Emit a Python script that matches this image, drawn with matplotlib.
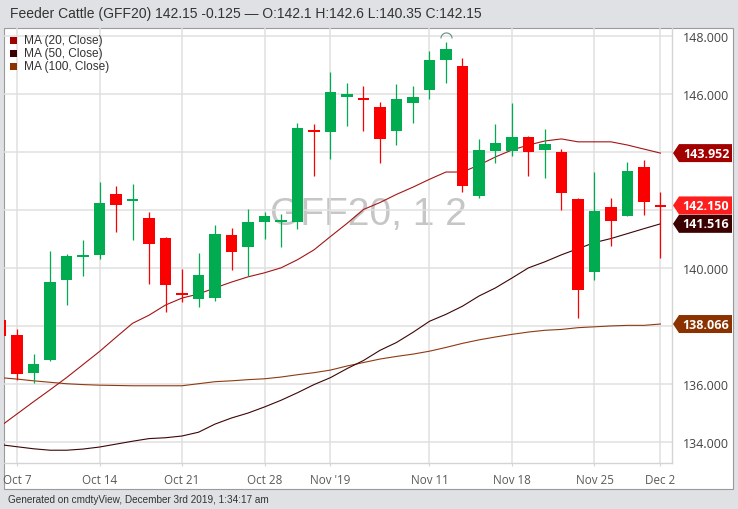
import matplotlib
matplotlib.use('Agg')
import matplotlib.pyplot as plt
import matplotlib.transforms as mtransforms
from matplotlib.patches import Rectangle, Polygon
from matplotlib.path import Path
import numpy as np

# ---------------- data ----------------
dates = ['Oct 4', 'Oct 7', 'Oct 8', 'Oct 9', 'Oct 10', 'Oct 11',
         'Oct 14', 'Oct 15', 'Oct 16', 'Oct 17', 'Oct 18',
         'Oct 21', 'Oct 22', 'Oct 23', 'Oct 24', 'Oct 25',
         'Oct 28', 'Oct 29', 'Oct 30', 'Oct 31', 'Nov 1',
         'Nov 4', 'Nov 5', 'Nov 6', 'Nov 7', 'Nov 8',
         'Nov 11', 'Nov 12', 'Nov 13', 'Nov 14', 'Nov 15',
         'Nov 18', 'Nov 19', 'Nov 20', 'Nov 21', 'Nov 22',
         'Nov 25', 'Nov 26', 'Nov 27', 'Nov 29', 'Dec 2']

opens = [138.22, 137.68, 136.38, 136.84, 139.59, 140.40,
         140.45, 142.55, 142.32, 141.73, 141.03,
         139.12, 138.92, 138.95, 141.14, 140.72,
         141.58, 141.60, 141.58, 144.72, 144.68,
         145.89, 145.85, 145.55, 144.71, 145.69,
         146.12, 147.16, 146.96, 142.48, 144.03,
         144.03, 144.52, 144.07, 143.99, 142.37,
         139.85, 142.11, 141.79, 143.49, 142.10]
highs = [138.30, 137.88, 137.03, 140.58, 140.49, 140.97,
         142.97, 142.83, 142.89, 141.91, 141.05,
         139.97, 140.52, 141.47, 141.38, 142.02,
         141.91, 141.87, 144.99, 144.94, 146.73,
         146.38, 146.27, 145.71, 146.33, 146.27,
         147.47, 147.79, 147.24, 144.45, 144.94,
         145.69, 144.55, 144.79, 144.11, 142.40,
         143.30, 142.39, 143.64, 143.70, 142.60]
lows = [137.60, 136.15, 136.03, 136.80, 138.72, 139.71,
        140.31, 141.24, 140.95, 139.45, 138.49,
        138.81, 138.64, 138.87, 139.91, 139.71,
        141.01, 140.72, 141.33, 143.18, 143.75,
        144.88, 144.71, 143.61, 144.24, 144.99,
        145.83, 146.37, 142.62, 142.40, 143.61,
        143.84, 143.15, 143.09, 141.99, 138.26,
        139.59, 140.75, 141.79, 141.82, 140.35]
closes = [137.66, 136.36, 136.70, 139.50, 140.41, 140.44,
          142.22, 142.16, 142.36, 140.83, 139.41,
          139.08, 139.77, 141.18, 140.54, 141.58,
          141.79, 141.63, 144.82, 144.68, 146.04,
          146.00, 145.81, 144.44, 145.81, 145.89,
          147.17, 147.54, 142.83, 144.07, 144.30,
          144.51, 144.00, 144.27, 142.59, 139.24,
          141.97, 141.62, 143.35, 142.28, 142.15]

ma20 = [134.55, 134.97, 135.39, 135.80, 136.22, 136.67,
        137.12, 137.61, 138.09, 138.37, 138.72,
        138.96, 139.10, 139.31, 139.51, 139.69,
        139.83, 140.00, 140.28, 140.62, 141.08,
        141.53, 142.01, 142.25, 142.53, 142.78,
        143.05, 143.30, 143.30, 143.54, 143.82,
        144.06, 144.23, 144.37, 144.44, 144.34,
        144.34, 144.34, 144.23, 144.09, 143.952]
ma50 = [133.91, 133.84, 133.77, 133.72, 133.72, 133.76,
        133.83, 133.93, 134.03, 134.12, 134.15,
        134.21, 134.34, 134.62, 134.83, 135.00,
        135.21, 135.44, 135.70, 135.98, 136.22,
        136.53, 136.81, 137.16, 137.43, 137.78,
        138.16, 138.40, 138.68, 139.03, 139.31,
        139.65, 140.00, 140.21, 140.45, 140.66,
        140.87, 141.01, 141.18, 141.35, 141.516]
ma100 = [136.22, 136.17, 136.11, 136.06, 136.01, 135.98,
         135.96, 135.95, 135.94, 135.94, 135.94,
         135.94, 136.01, 136.08, 136.11, 136.15,
         136.18, 136.24, 136.32, 136.39, 136.48,
         136.62, 136.74, 136.86, 136.95, 137.03,
         137.13, 137.26, 137.40, 137.52, 137.62,
         137.71, 137.79, 137.85, 137.88, 137.94,
         137.97, 138.00, 138.02, 138.02, 138.066]

net_change = -0.125
tick_dates = ['Oct 7', 'Oct 14', 'Oct 21', 'Oct 28', 'Nov 1',
              'Nov 11', 'Nov 18', 'Nov 25', 'Dec 2']
tick_labels = ['Oct 7', 'Oct 14', 'Oct 21', 'Oct 28', "Nov '19",
               'Nov 11', 'Nov 18', 'Nov 25', 'Dec 2']
y_ticks = [134, 136, 138, 140, 142, 144, 146, 148]
legend_names = ['MA (20, Close)', 'MA (50, Close)', 'MA (100, Close)']
header = 'Feeder Cattle (GFF20) 142.15 -0.125 \u2014 O:142.1 H:142.6 L:140.35 C:142.15'
footer = 'Generated on cmdtyView, December 3rd 2019, 1:34:17 am'
watermark = 'GFF20, 1 2'

# ---------------- style ----------------
W, H = 738, 510
GREEN = '#00ac4f'
RED = '#fb0000'
C20, C50, C100 = '#a31515', '#3d0505', '#8f3a12'
B20, B50, B100, BLAST = '#a30000', '#3d0000', '#8b3200', '#ff1e1e'
GRID = '#e0e0e0'
SANS = ['Liberation Sans', 'DejaVu Sans']
OPEN = ['Open Sans', 'DejaVu Sans']

fig = plt.figure(figsize=(W / 100, H / 100), dpi=100)
fig.patch.set_facecolor('#dfe1e4')

def fx(px):
    return px / W

def fy(py):
    return 1 - py / H

# white panel
panel = Rectangle((fx(3.5), fy(490)), fx(733) - fx(3.5), fy(28.5) - fy(490),
                  transform=fig.transFigure, facecolor='white',
                  edgecolor='#9a9a9a', lw=0.8, zorder=-5)
fig.add_artist(panel)

ax = fig.add_axes([fx(4), fy(464), fx(672) - fx(4), fy(29) - fy(464)])
ax.set_facecolor('none')

x = np.arange(len(dates))
o = np.array(opens); h = np.array(highs); l = np.array(lows); c = np.array(closes)
cols = [GREEN if cc > oo else RED for oo, cc in zip(o, c)]
cols[-1] = GREEN if net_change > 0 else RED

# watermark
ax.text(0.546, 0.549, watermark, transform=ax.transAxes, ha='center',
        va='baseline', fontsize=28, color='#c6c6c6', family=SANS, zorder=0.5)

# moving averages
ax.plot(x, ma100, color=C100, lw=0.8, zorder=2)
ax.plot(x, ma50, color=C50, lw=0.8, zorder=2)
ax.plot(x, ma20, color=C20, lw=0.8, zorder=2)

# candles
ax.vlines(x, l, h, colors=cols, lw=0.9, zorder=3)
body_low = np.minimum(o, c)
body_h = np.maximum(np.abs(c - o), 0.07)
body_low = np.where(np.abs(c - o) < 0.07, (o + c) / 2 - 0.035, body_low)
ax.bar(x, body_h, bottom=body_low, width=0.7, color=cols, zorder=4, lw=0)

# highest-high arc marker
theta = np.linspace(0, np.pi, 25)
arc = Path(np.column_stack([np.cos(theta), np.sin(theta)]))
imax = int(np.argmax(h))
off = mtransforms.ScaledTranslation(0, 3.8 / 100, fig.dpi_scale_trans)
ax.plot([x[imax]], [h[imax]], marker=arc, markersize=8, mfc='none',
        mec='#5f8f7a', mew=0.8, transform=ax.transData + off, zorder=5)

# axes setup
ax.set_xlim(0.21, 40.70)
ax.set_ylim(133.28, 148.26)

# right value labels (boxes cover the tick labels they sit on)
labels = [(ma20[-1], B20), (closes[-1], BLAST), (ma50[-1], B50), (ma100[-1], B100)]
px_per_unit = (464 - 29) / (148.26 - 133.28)
covered = [t for t in y_ticks
           if any(abs(t - v) * px_per_unit < 13 for v, _ in labels)]

ax.set_yticks(y_ticks)
ax.set_yticklabels(['' if t in covered else f'{t:.3f}' for t in y_ticks])
ax.yaxis.tick_right()
ax.set_xticks([dates.index(d) for d in tick_dates])
ax.set_xticklabels(tick_labels)
ax.tick_params(axis='y', length=0, pad=8, labelsize=9, labelcolor='#444444')
ax.tick_params(axis='x', length=2.2, color='#d4d4d4', pad=5, labelsize=8.4,
               labelcolor='#5a5a5a')
for lab in ax.get_xticklabels() + ax.get_yticklabels():
    lab.set_family(OPEN)
ax.grid(True, color=GRID, lw=1.1, zorder=0)
ax.set_axisbelow(True)
for s in ['top', 'left']:
    ax.spines[s].set_visible(False)
for s in ['right', 'bottom']:
    ax.spines[s].set_color('#d4d4d4')
    ax.spines[s].set_linewidth(1.0)

# header / footer
fig.text(fx(10), fy(14), header, ha='left', va='center', fontsize=10,
         color='#333333', family=SANS)
fig.text(fx(8), fy(500), footer, ha='left', va='center', fontsize=7.2,
         color='#333333', family=SANS)

# legend
for i, (name, col) in enumerate(zip(legend_names, [B20, B50, B100])):
    yc = 41 + i * 13.2
    fig.add_artist(Rectangle((fx(10), fy(yc + 3.5)), fx(7), 7 / H,
                             transform=fig.transFigure, facecolor=col,
                             edgecolor='none', zorder=6))
    fig.text(fx(24), fy(yc), name, ha='left', va='center', fontsize=8.6,
             color='#333333', family=SANS, zorder=6)

fig.canvas.draw()
for val, col in labels:
    yd = ax.transData.transform((0, val))[1]
    verts = [(673, yd), (679, yd + 9), (732, yd + 9), (732, yd - 9), (679, yd - 9)]
    fig.add_artist(Polygon(verts, closed=True, facecolor=col, edgecolor='none',
                           transform=mtransforms.IdentityTransform(), zorder=7))
    fig.text(fx(706), yd / H, f'{val:.3f}', ha='center', va='center',
             fontsize=9, fontweight='bold', color='white', family=OPEN, zorder=8)

fig.savefig('out.png', dpi=100, facecolor=fig.get_facecolor())
